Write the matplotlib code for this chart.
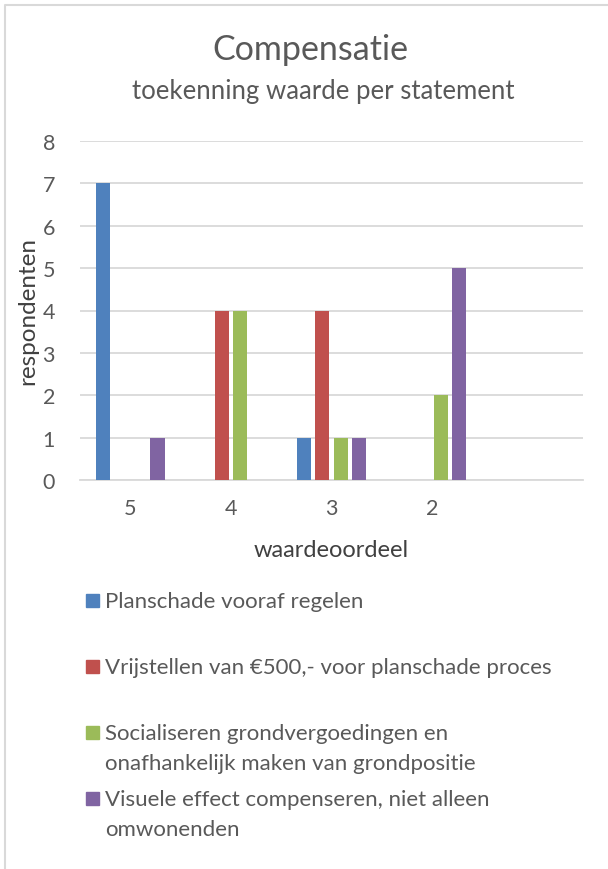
import numpy as np
import matplotlib
matplotlib.use("Agg")
import matplotlib.pyplot as plt
from matplotlib.patches import Rectangle
from matplotlib.lines import Line2D

# data
categories = ["5", "4", "3", "2", ""]
series_names = [
    "Planschade vooraf regelen",
    "Vrijstellen van €500,- voor planschade proces",
    "Socialiseren grondvergoedingen en\nonafhankelijk maken van grondpositie",
    "Visuele effect compenseren, niet alleen\nomwonenden",
]
planschade = [7, 0, 1, 0, 0]
vrijstellen = [0, 4, 4, 0, 0]
socialiseren = [0, 4, 1, 2, 0]
visueel = [1, 0, 1, 5, 0]
y_ticks = [0, 1, 2, 3, 4, 5, 6, 7, 8]

colors = ["#4F81BD", "#C0504D", "#9BBB59", "#8064A2"]
txt = "#595959"
dark = "#404040"
grid = "#D9D9D9"

plt.rcParams['font.family'] = ['Lato', 'DejaVu Sans']

W, H = 608, 870
fig = plt.figure(figsize=(W / 100, H / 100), dpi=100)
ax = fig.add_axes([80 / W, 1 - 481 / H, (583 - 80) / W, (481 - 142) / H])

x = np.arange(len(categories))
width = 0.14
step = 0.18
all_series = [planschade, vrijstellen, socialiseren, visueel]
for i, vals in enumerate(all_series):
    ax.bar(x + (i - 1.5) * step, vals, width, color=colors[i], zorder=3)

ax.set_xlim(-0.5, len(categories) - 0.5)
ax.set_ylim(0, 8)
ax.set_yticks(y_ticks)
ax.set_xticks(x)
ax.set_xticklabels(categories)
ax.tick_params(length=0, labelsize=15.5, colors=txt)
ax.tick_params(axis='y', pad=18)
ax.tick_params(axis='x', pad=13)
ax.yaxis.grid(True, color=grid, linewidth=1.3, zorder=0)
for s in ["top", "right", "left"]:
    ax.spines[s].set_visible(False)
ax.spines["bottom"].set_color(grid)
ax.spines["bottom"].set_linewidth(1.3)

ax.set_ylabel("respondenten", fontsize=17.5, color=dark, labelpad=3)
ax.set_xlabel("waardeoordeel", fontsize=17, color=dark, labelpad=15)

fig.text(310 / W, 1 - 50 / H, "Compensatie", ha="center", va="center",
         fontsize=24.5, color=txt)
fig.text(323 / W, 1 - 92 / H, "toekenning waarde per statement", ha="center",
         va="center", fontsize=18.5, color=txt)

# legend drawn by hand to match the fixed entry spacing
leg_y = [601, 667, 733, 799]
for i, name in enumerate(series_names):
    y0 = leg_y[i]
    fig.patches.append(Rectangle((86 / W, 1 - (y0 + 7) / H), 13 / W, 13 / H,
                                 transform=fig.transFigure, color=colors[i]))
    fig.text(105 / W, 1 - (y0 - 9) / H, name, ha="left", va="top",
             fontsize=16, color=txt, linespacing=1.6)

# chart border (only left/top inside the crop)
fig.lines.append(Line2D([5 / W, 5 / W, 1], [0, 1 - 6 / H, 1 - 6 / H],
                        transform=fig.transFigure, color=grid, linewidth=1.5))

fig.savefig("out.png", dpi=100)
